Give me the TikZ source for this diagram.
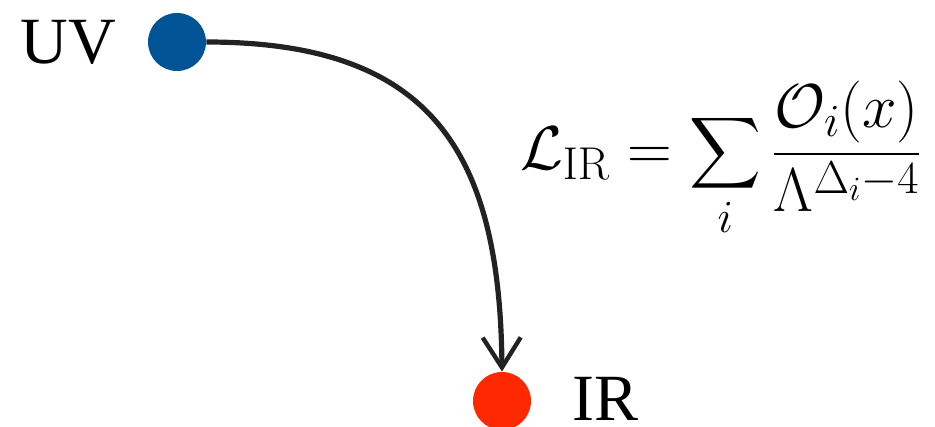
\documentclass[tikz,border=0pt]{standalone}
\usepackage{fix-cm}
\usepackage{amsmath}
\usepackage[no-math]{fontspec}
\newfontfamily\lblfont{Liberation Serif}
\DeclareMathSizes{31}{31}{23}{17}
\usetikzlibrary{arrows.meta}
\definecolor{uvblue}{RGB}{0,84,150}
\definecolor{irred}{RGB}{255,40,0}
\definecolor{arrowgray}{RGB}{34,34,34}
\tikzset{
  dot/.style={circle,inner sep=0pt,minimum size=29pt},
  lbl/.style={inner sep=0pt,font=\lblfont\fontsize{33}{40}\selectfont},
  flow/.style={line width=2.6pt,draw=arrowgray,-{Straight Barb[length=15pt,width=19pt,line width=2.2pt]}}
}
\begin{document}
\begin{tikzpicture}[x=0.5pt,y=-0.5pt]
\useasboundingbox (0,0) rectangle (935,427);
\node[dot,fill=uvblue] (uv) at (177,42) {};
\node[dot,fill=irred] (ir) at (502,401) {};
\node[lbl,anchor=base west] (uvt) at (20,64) {UV};
\node[lbl,anchor=base west] (irt) at (572,420) {IR};
\draw[flow] (uv.east) .. controls (430,42) and (500,150) .. (ir.north);
\node[inner sep=0pt,font=\fontsize{31}{37}\selectfont] (eq) at (721,159)
  {$\displaystyle \mathcal{L}_{\mathrm{IR}} = \sum_i \frac{\mathcal{O}_i(x)}{\Lambda^{\Delta_i-4}}$};
\end{tikzpicture}
\end{document}
